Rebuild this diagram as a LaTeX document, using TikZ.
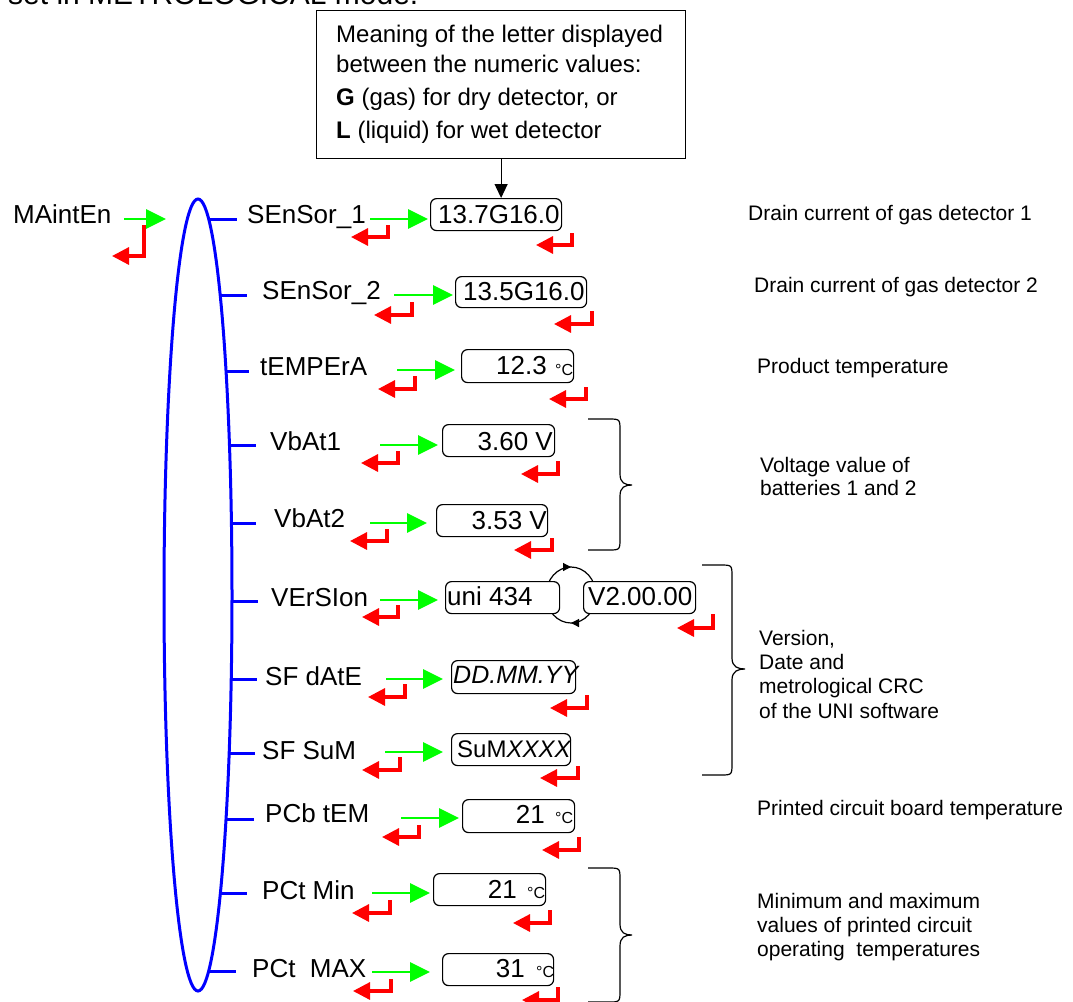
\documentclass[tikz,border=0pt]{standalone}
\usepackage{fontspec}
\setmainfont{Liberation Sans}
\usetikzlibrary{arrows.meta,decorations.markings}
\definecolor{gr}{RGB}{0,255,0}
\definecolor{rd}{RGB}{255,0,0}
\definecolor{bl}{RGB}{0,0,255}
\newcommand\fsz[1]{\fontsize{#1}{#1}\selectfont}
\newcommand\branchline[2]{%
  \pgfmathsetmacro\bxx{197+34*sqrt(1-((#1-595)/396)*((#1-595)/396))}%
  \draw[bluel] (\bxx,#1) -- (#2,#1);}
\newcommand\retarr[4]{\draw[rarrow] (#1,#2) |- (#4,#3);}
\newcommand\garr[4]{\coordinate (#4-g) at (#1,#2); \draw[garrow,shorten >=#3] (#4-g) -- (#4-g -| #4.west);}
\begin{document}
\begin{tikzpicture}[x=1pt,y=-1pt,
  lbl/.style={anchor=base west, inner sep=0, font=\fsz{26}},
  valt/.style={inner sep=0, font=\fsz{26}},
  deg/.style={anchor=base west, inner sep=0, font=\fsz{16}},
  desc/.style={anchor=base west, inner sep=0, font=\fsz{21}},
  notet/.style={anchor=base west, inner sep=0, font=\fsz{24}},
  valbox/.style={draw, rounded corners=6pt, line width=1.2pt, fill=white, inner sep=0, anchor=north west},
  bluel/.style={draw=bl, line width=3pt},
  garrow/.style={draw=gr, line width=2.8pt, -{Triangle[length=20pt 0 0,width=19pt 0 0]}},
  rarrow/.style={draw=rd, line width=3.2pt, -{Triangle[length=17pt 0 0,width=17pt 0 0]}},
  bracel/.style={draw, line width=1.2pt},
  cyc/.style={draw, line width=1.2pt, postaction={decorate}, decoration={markings, mark=at position 0.5 with {\arrow{Triangle[length=8pt,width=8pt]}}}}
]
\useasboundingbox (0,0) rectangle (1073,1001);
\clip (0,0) rectangle (1073,1001);
\fill[white] (0,0) rectangle (1073,1001);

% clipped heading
\node[anchor=base west, inner sep=0, font=\fsz{30}] (hdr) at (8,5) {set in METROLOGICAL mode.};

% note box
\node[draw, line width=1.2pt, minimum width=369pt, minimum height=148pt, inner sep=0, anchor=north west] (note) at (316,10) {};
\node[notet] (n1) at (336,42) {Meaning of the letter displayed};
\node[notet] (n2) at (336,72) {between the numeric values:};
\node[notet] (n3) at (336,105) {\textbf{G} (gas) for dry detector, or};
\node[notet] (n4) at (336,138) {\textbf{L} (liquid) for wet detector};

% ellipse
\draw[bluel] (198,595) ellipse [x radius=34, y radius=396];

% labels
\node[lbl] (mnt) at (13,223) {MAintEn};
\node[lbl] (s1) at (247,223) {SEnSor\_1};
\node[lbl] (s2) at (262,299) {SEnSor\_2};
\node[lbl] (tmp) at (260,375) {tEMPErA};
\node[lbl] (vb1) at (270,450) {VbAt1};
\node[lbl] (vb2) at (274,527) {VbAt2};
\node[lbl] (ver) at (271,606) {VErSIon};
\node[lbl] (sfd) at (265,685) {SF dAtE};
\node[lbl] (sfs) at (262,759) {SF SuM};
\node[lbl] (pcb) at (265,822) {PCb tEM};
\node[lbl] (pmin) at (262,899) {PCt Min};
\node[lbl] (pmax) at (252,977) {PCt\ \ MAX};

% branches
\branchline{219}{237}
\branchline{295}{247}
\branchline{371}{249}
\branchline{445}{256}
\branchline{523}{256}
\branchline{601}{258}
\branchline{679}{257}
\branchline{753}{255}
\branchline{819}{254}
\branchline{893}{247}
\branchline{971}{236}

% version cycle
\draw[cyc] (546,595) arc[start angle=180, end angle=360, x radius=25, y radius=28];
\draw[cyc] (596,595) arc[start angle=0, end angle=180, x radius=25, y radius=28];

% value boxes
\node[valbox, minimum width=131pt, minimum height=32pt] (b1) at (430,198) {};
\node[valbox, minimum width=131pt, minimum height=31pt] (b2) at (455,276) {};
\node[valbox, minimum width=112pt, minimum height=33pt] (b3) at (461,349) {};
\node[valbox, minimum width=112pt, minimum height=32pt] (b4) at (442,424) {};
\node[valbox, minimum width=111pt, minimum height=32pt] (b5) at (436,504) {};
\node[valbox, minimum width=114pt, minimum height=32pt] (b6) at (445,581) {};
\node[valbox, minimum width=112pt, minimum height=32pt] (b6v) at (583,581) {};
\node[valbox, minimum width=124pt, minimum height=33pt] (b7) at (451,660) {};
\node[valbox, minimum width=119pt, minimum height=32pt] (b8) at (451,733) {};
\node[valbox, minimum width=112pt, minimum height=33pt] (b9) at (462,799) {};
\node[valbox, minimum width=112pt, minimum height=32pt] (b10) at (433,873) {};
\node[valbox, minimum width=111pt, minimum height=32pt] (b11) at (442,953) {};

% values
\node[valt, anchor=base west] (v1) at (438,223) {13.7G16.0};
\node[valt, anchor=base west] (v2) at (463,300) {13.5G16.0};
\node[valt, anchor=base east] (v3) at (547,374) {12.3};
\node[deg] (d3) at (555,375) {°C};
\node[valt, anchor=base east] (v4) at (553,450) {3.60 V};
\node[valt, anchor=base east] (v5) at (547,529) {3.53 V};
\node[valt, anchor=base west] (v6) at (447,605) {uni 434};
\node[valt, anchor=base west] (v6v) at (588,605) {V2.00.00};
\node[valt, anchor=base west, font=\fsz{25}] (v7) at (453,683) {\textit{DD.MM.YY}};
\node[valt, anchor=base west, font=\fsz{24}] (v8) at (457,757) {SuM\textit{XXXX}};
\node[valt, anchor=base east] (v9) at (545,823) {21};
\node[deg] (d9) at (555,823) {°C};
\node[valt, anchor=base east] (v10) at (517,898) {21};
\node[deg] (d10) at (527,898) {°C};
\node[valt, anchor=base east] (v11) at (525,977) {31};
\node[deg] (d11) at (536,977) {°C};

% note arrow
\draw[line width=1.2pt, -{Triangle[length=14pt,width=13pt]}] (note.south) -- (note.south |- b1.north);

% green arrows
\coordinate (mg1) at (124,219); \coordinate (mg2) at (166,219);
\draw[garrow] (mg1) -- (mg2);
\garr{370}{219}{2pt}{b1}
\garr{394}{295}{2pt}{b2}
\garr{397}{370}{6pt}{b3}
\garr{380}{445}{4pt}{b4}
\garr{370}{523}{9pt}{b5}
\garr{380}{600}{7pt}{b6}
\garr{386}{679}{8pt}{b7}
\garr{385}{752}{8pt}{b8}
\garr{401}{818}{3pt}{b9}
\garr{372}{893}{3pt}{b10}
\garr{372}{972}{12pt}{b11}

% red return arrows
\retarr{144}{225}{256}{112}
\retarr{388}{225}{237}{351}
\retarr{572}{233}{245}{536}
\retarr{412}{302}{315}{374}
\retarr{592}{311}{324}{554}
\retarr{415}{376}{389}{378}
\retarr{586}{387}{399}{549}
\retarr{398}{451}{463}{361}
\retarr{558}{461}{474}{521}
\retarr{387}{529}{541}{350}
\retarr{552}{538}{550}{514}
\retarr{398}{605}{617}{362}
\retarr{713}{614}{628}{677}
\retarr{405}{684}{697}{368}
\retarr{587}{695}{708}{550}
\retarr{400}{757}{770}{362}
\retarr{578}{766}{778}{540}
\retarr{419}{825}{837}{382}
\retarr{579}{837}{850}{542}
\retarr{390}{900}{913}{352}
\retarr{550}{910}{923}{513}
\retarr{391}{979}{991}{353}
\retarr{558}{987}{1000}{522}

% braces
\draw[bracel] (588,419) -- (608,419) .. controls (620,419) .. (620,431) -- (620,474) .. controls (620,483) and (625,485) .. (632,485) .. controls (625,485) and (620,487) .. (620,496) -- (620,538) .. controls (620,550) .. (608,550) -- (588,550);
\draw[bracel] (702,565) -- (720,565) .. controls (732,565) .. (732,577) -- (732,658) .. controls (732,667) and (738,669) .. (745,669) .. controls (738,669) and (732,671) .. (732,680) -- (732,763) .. controls (732,775) .. (720,775) -- (702,775);
\draw[bracel] (588,868) -- (608,868) .. controls (620,868) .. (620,880) -- (620,924) .. controls (620,933) and (625,935) .. (632,935) .. controls (625,935) and (620,937) .. (620,946) -- (620,990) .. controls (620,1002) .. (608,1002) -- (588,1002);

% descriptions
\node[desc] (t1) at (748,220) {Drain current of gas detector 1};
\node[desc] (t2) at (754,292) {Drain current of gas detector 2};
\node[desc] (t3) at (757,373) {Product temperature};
\node[desc] (t4a) at (760,472) {Voltage value of};
\node[desc] (t4b) at (760,495) {batteries 1 and 2};
\node[desc] (t5a) at (759,645) {Version,};
\node[desc] (t5b) at (759,669) {Date and};
\node[desc] (t5c) at (759,693) {metrological CRC};
\node[desc] (t5d) at (759,718) {of the UNI software};
\node[desc] (t6) at (757,815) {Printed circuit board temperature};
\node[desc] (t7a) at (757,908) {Minimum and maximum};
\node[desc] (t7b) at (757,932) {values of printed circuit};
\node[desc] (t7c) at (757,956) {operating\ \ temperatures};
\end{tikzpicture}
\end{document}
